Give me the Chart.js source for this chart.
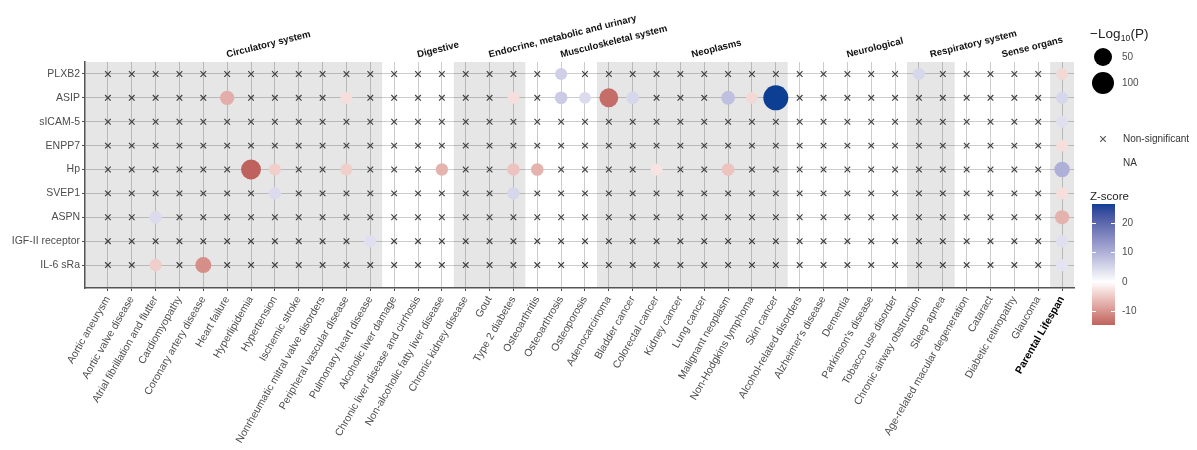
<!DOCTYPE html>
<html>
<head>
<meta charset="utf-8">
<script src="https://cdn.jsdelivr.net/npm/chart.js@4.4.1/dist/chart.umd.min.js"></script>
<style>
  html, body { margin: 0; padding: 0; background: #ffffff; }
  #wrap { width: 1197px; height: 450px; position: relative; }
</style>
</head>
<body>
<div id="wrap"><canvas id="c" width="1197" height="450"></canvas></div>
<script>
// ---- outcomes (x axis), in plotting order ----
const outcomes = [
  'Aortic aneurysm', 'Aortic valve disease', 'Atrial fibrillation and flutter', 'Cardiomyopathy',
  'Coronary artery disease', 'Heart failure', 'Hyperlipidemia', 'Hypertension', 'Ischemic stroke',
  'Nonrheumatic mitral valve disorders', 'Peripheral vascular disease', 'Pulmonary heart disease',
  'Alcoholic liver damage', 'Chronic liver disease and cirrhosis', 'Non-alcoholic fatty liver disease',
  'Chronic kidney disease', 'Gout', 'Type 2 diabetes',
  'Osteoarthritis', 'Osteoarthrosis', 'Osteoporosis',
  'Adenocarcinoma', 'Bladder cancer', 'Colorectal cancer', 'Kidney cancer', 'Lung cancer',
  'Malignant neoplasm', 'Non-Hodgkins lymphoma', 'Skin cancer',
  'Alcohol-related disorders', "Alzheimer's disease", 'Dementia', "Parkinson's disease", 'Tobacco use disorder',
  'Chronic airway obstruction', 'Sleep apnea',
  'Age-related macular degeneration', 'Cataract', 'Diabetic retinopathy', 'Glaucoma',
  'Parental Lifespan'
];

// ---- proteins (y axis), top to bottom ----
const proteins = ['PLXB2', 'ASIP', 'sICAM-5', 'ENPP7', 'Hp', 'SVEP1', 'ASPN', 'IGF-II receptor', 'IL-6 sRa'];

// ---- disease chapters ----
const groupNames   = ['Circulatory system', 'Digestive', 'Endocrine, metabolic and urinary', 'Musculoskeletal system',
                      'Neoplasms', 'Neurological', 'Respiratory system', 'Sense organs', ''];
const groupFirst   = [1, 13, 16, 19, 22, 30, 35, 37, 41];
const groupLast    = [12, 15, 18, 21, 29, 34, 36, 40, 41];
const groupLabelAt = [6, 14, 17, 20, 25.5, 32, 35.5, 38.5, null];
const groupShaded  = [true, false, true, false, true, false, true, false, true];

// ---- significant associations ----
const hitProtein = [
  'PLXB2', 'PLXB2', 'PLXB2',
  'ASIP', 'ASIP', 'ASIP', 'ASIP', 'ASIP', 'ASIP', 'ASIP', 'ASIP', 'ASIP', 'ASIP', 'ASIP',
  'sICAM-5', 'ENPP7',
  'Hp', 'Hp', 'Hp', 'Hp', 'Hp', 'Hp', 'Hp', 'Hp', 'Hp',
  'SVEP1', 'SVEP1', 'SVEP1',
  'ASPN', 'ASPN',
  'IGF-II receptor', 'IGF-II receptor',
  'IL-6 sRa', 'IL-6 sRa', 'IL-6 sRa'
];
const hitOutcome = [
  'Osteoarthrosis', 'Chronic airway obstruction', 'Parental Lifespan',
  'Heart failure', 'Peripheral vascular disease', 'Type 2 diabetes', 'Osteoarthrosis', 'Osteoporosis',
  'Adenocarcinoma', 'Bladder cancer', 'Malignant neoplasm', 'Non-Hodgkins lymphoma', 'Skin cancer', 'Parental Lifespan',
  'Parental Lifespan', 'Parental Lifespan',
  'Hyperlipidemia', 'Hypertension', 'Peripheral vascular disease', 'Non-alcoholic fatty liver disease',
  'Type 2 diabetes', 'Osteoarthritis', 'Colorectal cancer', 'Malignant neoplasm', 'Parental Lifespan',
  'Hypertension', 'Type 2 diabetes', 'Parental Lifespan',
  'Atrial fibrillation and flutter', 'Parental Lifespan',
  'Pulmonary heart disease', 'Parental Lifespan',
  'Atrial fibrillation and flutter', 'Coronary artery disease', 'Parental Lifespan'
];
const hitZ = [
  6, 5, -3.5,
  -7.5, -3, -3, 6.5, 4.5, -13.5, 5, 8, -3.5, 26.4, 5,
  4, -3,
  -14.6, -4.5, -4.5, -7, -5.5, -7, -2.5, -5.5, 10,
  4.5, 5, -3,
  4.5, -7,
  4, 4,
  -4.5, -10.5, 3.5
];
const hitLogP = [
  10, 10, 9,
  20, 9, 9, 12, 9, 60, 12, 18, 9, 150, 10,
  9, 9,
  72, 10, 10, 11, 11, 12, 9, 12, 28,
  11, 11, 9,
  11, 20,
  10, 10,
  11, 32, 10
];

// ---- legend values ----
const sizeBreaks = [50, 100];
const zBreaks = [20, 10, 0, -10];
const zLimits = [-14.6, 26.4];

// ---- colour scale: white at 0, red below, blue above (interpolated in Lab) ----
const lowRGB = [191, 98, 94];
const highRGB = [12, 62, 148];
function toLin(c) { c /= 255; return c <= 0.04045 ? c / 12.92 : Math.pow((c + 0.055) / 1.055, 2.4); }
function fromLin(c) {
  const v = c <= 0.0031308 ? 12.92 * c : 1.055 * Math.pow(c, 1 / 2.4) - 0.055;
  return Math.round(Math.max(0, Math.min(1, v)) * 255);
}
function rgbToLab(rgb) {
  const R = toLin(rgb[0]), G = toLin(rgb[1]), B = toLin(rgb[2]);
  const X = (0.4124 * R + 0.3576 * G + 0.1805 * B) / 0.95047;
  const Y = 0.2126 * R + 0.7152 * G + 0.0722 * B;
  const Z = (0.0193 * R + 0.1192 * G + 0.9505 * B) / 1.08883;
  const f = t => t > 0.008856 ? Math.cbrt(t) : 7.787 * t + 16 / 116;
  const fx = f(X), fy = f(Y), fz = f(Z);
  return [116 * fy - 16, 500 * (fx - fy), 200 * (fy - fz)];
}
function labToRgb(lab) {
  const fy = (lab[0] + 16) / 116, fx = fy + lab[1] / 500, fz = fy - lab[2] / 200;
  const fi = t => t > 0.206893 ? t * t * t : (t - 16 / 116) / 7.787;
  const X = fi(fx) * 0.95047, Y = fi(fy), Z = fi(fz) * 1.08883;
  const R = 3.2406 * X - 1.5372 * Y - 0.4986 * Z;
  const G = -0.9689 * X + 1.8758 * Y + 0.0415 * Z;
  const B = 0.0557 * X - 0.2040 * Y + 1.0570 * Z;
  return [fromLin(R), fromLin(G), fromLin(B)];
}
const whiteLab = rgbToLab([255, 255, 255]);
const lowLab = rgbToLab(lowRGB), highLab = rgbToLab(highRGB);
function zColor(z) {
  const end = z < 0 ? lowLab : highLab;
  const t = Math.min(1, Math.abs(z) / Math.abs(z < 0 ? zLimits[0] : zLimits[1]));
  const lab = whiteLab.map((w, i) => w + (end[i] - w) * t);
  const c = labToRgb(lab);
  return 'rgb(' + c[0] + ',' + c[1] + ',' + c[2] + ')';
}
// point radius from -log10(P) (area-style size scale)
function pRadius(p) { return 4.6 + 0.656 * Math.sqrt(Math.max(0, p - 5)); }

// ---- build point sets ----
const hitPoints = hitProtein.map((pr, i) => ({
  x: outcomes.indexOf(hitOutcome[i]) + 1,
  y: proteins.length - proteins.indexOf(pr),
  z: hitZ[i],
  p: hitLogP[i]
}));
const hitKeys = new Set(hitPoints.map(d => d.x + '|' + d.y));
const crossPoints = [];
proteins.forEach((pr, pi) => {
  outcomes.forEach((o, oi) => {
    const x = oi + 1, y = proteins.length - pi;
    if (!hitKeys.has(x + '|' + y)) crossPoints.push({ x, y });
  });
});

const FONT = '"Liberation Sans", Arial, Helvetica, sans-serif';

// shaded chapter bands behind the grid
const bandsPlugin = {
  id: 'bands',
  beforeDraw(chart) {
    const { ctx, chartArea, scales } = chart;
    ctx.save();
    ctx.fillStyle = '#e6e6e6';
    groupFirst.forEach((g, i) => {
      if (!groupShaded[i]) return;
      let x0 = scales.x.getPixelForValue(g - 0.5);
      if (i === 0) x0 = chartArea.left;
      const x1 = scales.x.getPixelForValue(groupLast[i] + 0.5);
      ctx.fillRect(x0, chartArea.top, Math.min(x1, chartArea.right) - x0, chartArea.bottom - chartArea.top);
    });
    ctx.restore();
  }
};

// slanted chapter titles above the panel
const groupTitlePlugin = {
  id: 'groupTitles',
  afterDraw(chart) {
    const { ctx, chartArea, scales } = chart;
    ctx.save();
    ctx.font = 'bold 9.6px ' + FONT;
    ctx.fillStyle = '#111';
    ctx.textAlign = 'left';
    ctx.textBaseline = 'alphabetic';
    groupNames.forEach((name, i) => {
      if (!name || groupLabelAt[i] == null) return;
      const px = scales.x.getPixelForValue(groupLabelAt[i]);
      ctx.save();
      ctx.translate(px, chartArea.top - 4.5);
      ctx.rotate(-14 * Math.PI / 180);
      ctx.fillText(name, 0, 0);
      ctx.restore();
    });
    ctx.restore();
  }
};

// size / symbol / colour legends on the right
const legendPlugin = {
  id: 'sideLegend',
  afterDraw(chart) {
    const ctx = chart.ctx;
    ctx.save();
    // -Log10(P) title
    ctx.fillStyle = '#222';
    ctx.textBaseline = 'alphabetic';
    ctx.textAlign = 'left';
    let x = 1090;
    ctx.font = '13.5px ' + FONT;
    ctx.fillText('\u2212Log', x, 38); x += ctx.measureText('\u2212Log').width + 0.3;
    ctx.font = '8.5px ' + FONT;
    ctx.fillText('10', x, 40.5); x += ctx.measureText('10').width + 0.3;
    ctx.font = '13.5px ' + FONT;
    ctx.fillText('(P)', x, 38);

    // size keys
    const keyY = [57, 83];
    sizeBreaks.forEach((v, i) => {
      ctx.beginPath();
      ctx.fillStyle = '#000';
      ctx.arc(1103, keyY[i], pRadius(v), 0, Math.PI * 2);
      ctx.fill();
      ctx.fillStyle = '#4d4d4d';
      ctx.font = '10px ' + FONT;
      ctx.textBaseline = 'middle';
      ctx.fillText(String(v), 1122, keyY[i]);
    });

    // non-significant symbol & NA
    ctx.strokeStyle = '#555';
    ctx.lineWidth = 1.1;
    const cx = 1103, cy = 139, d = 2.8;
    ctx.beginPath();
    ctx.moveTo(cx - d, cy - d); ctx.lineTo(cx + d, cy + d);
    ctx.moveTo(cx + d, cy - d); ctx.lineTo(cx - d, cy + d);
    ctx.stroke();
    ctx.fillStyle = '#333';
    ctx.font = '10px ' + FONT;
    ctx.textBaseline = 'middle';
    ctx.fillText('Non-significant', 1123, 139);
    ctx.fillText('NA', 1123, 163);

    // Z-score colour bar
    ctx.fillStyle = '#222';
    ctx.font = '11.5px ' + FONT;
    ctx.textBaseline = 'alphabetic';
    ctx.fillText('Z-score', 1090, 200);
    const barX = 1092, barW = 23, barTop = 204, barBot = 325;
    const zToY = z => barTop + (zLimits[1] - z) / (zLimits[1] - zLimits[0]) * (barBot - barTop);
    for (let yy = barTop; yy < barBot; yy++) {
      const z = zLimits[1] - (yy + 0.5 - barTop) / (barBot - barTop) * (zLimits[1] - zLimits[0]);
      ctx.fillStyle = zColor(z);
      ctx.fillRect(barX, yy, barW, 1);
    }
    ctx.strokeStyle = '#ffffff';
    ctx.lineWidth = 1;
    ctx.font = '10px ' + FONT;
    ctx.textBaseline = 'middle';
    zBreaks.forEach(z => {
      const y = Math.round(zToY(z)) + 0.5;
      ctx.beginPath();
      ctx.moveTo(barX, y); ctx.lineTo(barX + 4, y);
      ctx.moveTo(barX + barW - 4, y); ctx.lineTo(barX + barW, y);
      ctx.stroke();
      ctx.fillStyle = '#4d4d4d';
      ctx.fillText(String(z), 1122, zToY(z));
    });
    ctx.restore();
  }
};

new Chart(document.getElementById('c').getContext('2d'), {
  type: 'scatter',
  data: {
    datasets: [
      {
        data: crossPoints,
        pointStyle: 'crossRot',
        radius: 4,
        borderColor: '#3c3c3c',
        borderWidth: 1.1,
        backgroundColor: 'transparent'
      },
      {
        data: hitPoints,
        pointStyle: 'circle',
        radius: c => pRadius(c.raw.p),
        backgroundColor: c => zColor(c.raw.z),
        borderWidth: 0
      }
    ]
  },
  options: {
    responsive: false,
    animation: false,
    events: [],
    layout: { padding: { left: 0, right: 123, top: 62, bottom: 0 } },
    plugins: { legend: { display: false }, tooltip: { enabled: false } },
    scales: {
      x: {
        type: 'linear',
        min: 0.04,
        max: 41.5,
        afterBuildTicks: s => { s.ticks = outcomes.map((_, i) => ({ value: i + 1 })); },
        afterFit: s => { s.height = 162; },
        ticks: {
          autoSkip: false,
          minRotation: 60,
          maxRotation: 60,
          padding: 3,
          callback: (v, i) => outcomes[i],
          font: c => (c.index === outcomes.length - 1
            ? { family: FONT, size: 10.5, weight: 'bold' }
            : { family: FONT, size: 10.5 }),
          color: c => (c.index === outcomes.length - 1 ? '#000' : '#4d4d4d')
        },
        grid: { color: 'rgba(0,0,0,0.2)', lineWidth: 1, drawTicks: true, tickLength: 3, tickColor: '#4d4d4d' },
        border: { display: true, color: '#555', width: 1.5 }
      },
      y: {
        type: 'linear',
        min: 0.04,
        max: 9.5,
        afterBuildTicks: s => { s.ticks = proteins.map((_, i) => ({ value: i + 1 })); },
        afterFit: s => { s.width = 85; },
        ticks: {
          padding: 2,
          callback: (v) => proteins[proteins.length - v],
          font: { family: FONT, size: 10.5 },
          color: '#4d4d4d'
        },
        grid: { color: 'rgba(0,0,0,0.2)', lineWidth: 1, drawTicks: true, tickLength: 3, tickColor: '#4d4d4d' },
        border: { display: true, color: '#555', width: 1.5 }
      }
    }
  },
  plugins: [bandsPlugin, groupTitlePlugin, legendPlugin]
});
</script>
</body>
</html>
